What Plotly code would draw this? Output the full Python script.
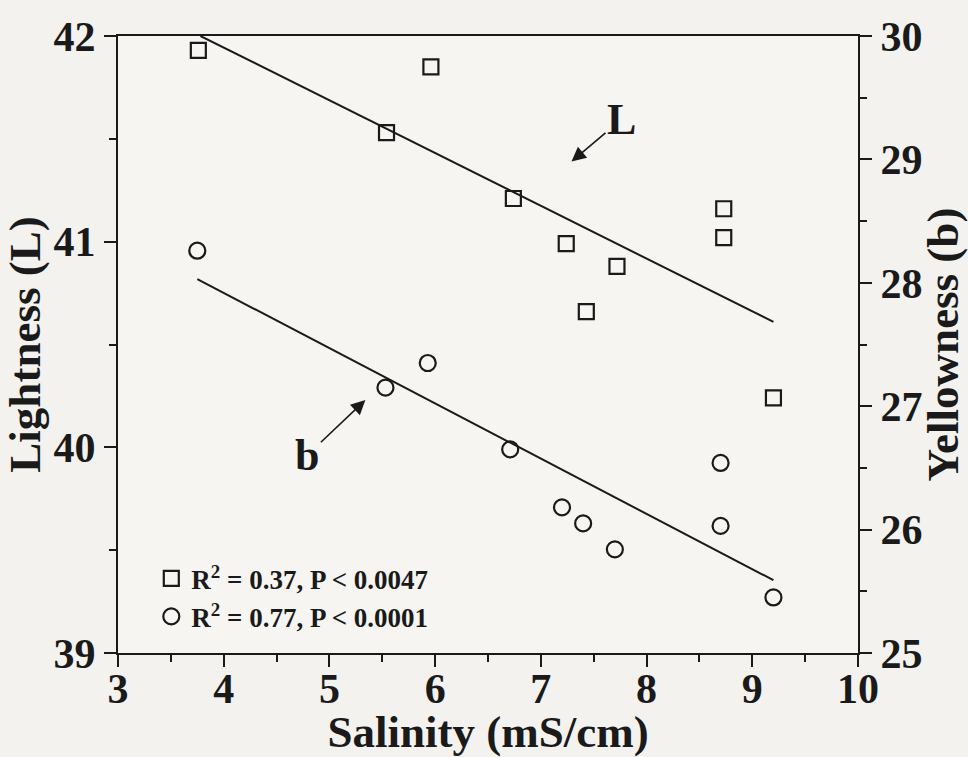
import plotly.graph_objects as go

# --- data ---
salinity_L = [3.76, 5.96, 5.54, 6.74, 7.24, 7.72, 7.43, 8.73, 8.73, 9.20]
lightness = [41.93, 41.85, 41.53, 41.21, 40.99, 40.88, 40.66, 41.16, 41.02, 40.24]
salinity_b = [3.75, 5.53, 5.93, 6.71, 7.20, 7.40, 7.70, 8.70, 8.70, 9.20]
yellowness = [28.26, 27.15, 27.35, 26.65, 26.18, 26.05, 25.84, 26.54, 26.03, 25.45]

fit_x = [3.78, 9.20]
fit_L = [42.00, 40.61]
fit_xb = [3.75, 9.20]
fit_b = [28.03, 25.59]

label_L = "R<sup>2</sup> = 0.37, P < 0.0047"
label_b = "R<sup>2</sup> = 0.77, P < 0.0001"

FONT = "Liberation Serif"
INK = "#1a1a1a"

fig = go.Figure()
fig.add_trace(go.Scatter(x=salinity_L, y=lightness, mode="markers", name=label_L,
                         marker=dict(symbol="square-open", size=15, color=INK, line=dict(width=2.2, color=INK))))
fig.add_trace(go.Scatter(x=salinity_b, y=yellowness, mode="markers", name=label_b, yaxis="y2",
                         marker=dict(symbol="circle-open", size=16, color=INK, line=dict(width=2.2, color=INK))))
fig.add_trace(go.Scatter(x=fit_x, y=fit_L, mode="lines", showlegend=False,
                         line=dict(color=INK, width=2)))
fig.add_trace(go.Scatter(x=fit_xb, y=fit_b, mode="lines", showlegend=False, yaxis="y2",
                         line=dict(color=INK, width=2)))

tickfont = dict(family=FONT, size=42, color=INK, weight="bold")
titlefont = dict(family=FONT, size=45, color=INK, weight="bold")

fig.update_layout(
    width=968, height=757,
    margin=dict(l=118, r=110, t=36, b=104, autoexpand=False),
    paper_bgcolor="#f3f2ee", plot_bgcolor="#f6f5f2",
    font=dict(family=FONT, color=INK, weight="bold"),
    xaxis=dict(range=[3, 10], dtick=1, tick0=3, showgrid=False, zeroline=False,
               showline=True, linecolor=INK, linewidth=2, mirror=True,
               ticks="outside", ticklen=12, tickwidth=2, tickcolor=INK,
               minor=dict(dtick=0.5, ticks="outside", ticklen=7, tickwidth=2, tickcolor=INK),
               tickfont=tickfont, ticklabelstandoff=-14,
               title=dict(text="Salinity (mS/cm)", font=titlefont, standoff=0)),
    yaxis=dict(range=[39, 42], dtick=1, showgrid=False, zeroline=False,
               showline=True, linecolor=INK, linewidth=2,
               ticks="outside", ticklen=12, tickwidth=2, tickcolor=INK,
               minor=dict(dtick=0.5, ticks="outside", ticklen=7, tickwidth=2, tickcolor=INK),
               tickfont=tickfont,
               title=dict(text="Lightness (L)", font=titlefont, standoff=0)),
    yaxis2=dict(range=[25, 30], dtick=1, overlaying="y", side="right", showgrid=False, zeroline=False,
                showline=True, linecolor=INK, linewidth=2,
                ticks="outside", ticklen=12, tickwidth=2, tickcolor=INK,
                minor=dict(dtick=0.5, ticks="outside", ticklen=7, tickwidth=2, tickcolor=INK),
                tickfont=tickfont,
                title=dict(text="Yellowness (b)", font=titlefont, standoff=6)),
    legend=dict(x=0.045, y=0.16, xanchor="left", yanchor="top", bgcolor="rgba(0,0,0,0)",
                font=dict(family=FONT, size=27, color=INK, weight="bold"),
                itemwidth=30, tracegroupgap=0),
    showlegend=True,
    annotations=[
        dict(x=7.29, y=41.39, xref="x", yref="y", text="L", showarrow=True,
             ax=50, ay=-42, arrowhead=2, arrowsize=1.8, arrowwidth=1.6, arrowcolor=INK,
             font=dict(family=FONT, size=44, color=INK, weight="bold")),
        dict(x=5.34, y=40.23, xref="x", yref="y", text="b", showarrow=True,
             ax=-58, ay=55, arrowhead=2, arrowsize=1.8, arrowwidth=1.6, arrowcolor=INK,
             font=dict(family=FONT, size=44, color=INK, weight="bold")),
    ],
)

fig.write_html("out.html")
